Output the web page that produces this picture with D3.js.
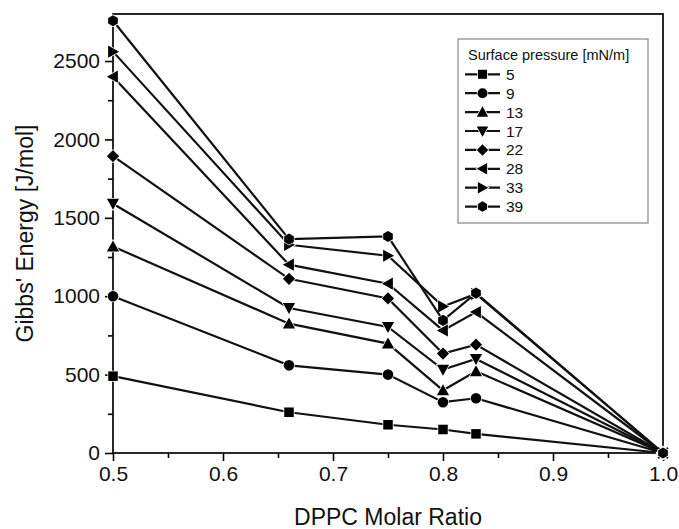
<!DOCTYPE html>
<html>
<head>
<meta charset="utf-8">
<script src="https://cdn.jsdelivr.net/npm/d3@7"></script>
<style>
  body { margin: 0; background: #fff; }
  svg { display: block; font-family: "Liberation Sans", Arial, sans-serif; }
</style>
</head>
<body>
<div class="chart"></div>
<script>
// DPPC molar ratio on x, one series per surface pressure
const ratios = [0.5, 0.66, 0.75, 0.8, 0.83, 1.0];
const pressures = ['5', '9', '13', '17', '22', '28', '33', '39'];
const symbols = ['square', 'circle', 'up', 'down', 'diamond', 'left', 'right', 'hexagon'];

const p5  = [490, 260, 180, 150, 122, 0];
const p9  = [1000, 559, 500, 324, 349, 0];
const p13 = [1317, 825, 698, 400, 521, 0];
const p17 = [1590, 925, 804, 532, 600, 0];
const p22 = [1893, 1111, 986, 634, 691, 0];
const p28 = [2400, 1201, 1080, 782, 899, 0];
const p33 = [2560, 1328, 1258, 935, 1015, 0];
const p39 = [2757, 1364, 1381, 846, 1020, 0];

const xMajor = [0.5, 0.6, 0.7, 0.8, 0.9, 1.0];
const xMinor = [0.55, 0.65, 0.75, 0.85, 0.95];
const yMajor = [0, 500, 1000, 1500, 2000, 2500];
const yMinor = [250, 750, 1250, 1750, 2250, 2750];

const seriesValues = [p5, p9, p13, p17, p22, p28, p33, p39];

const width = 679, height = 529;
const margin = {top: 14, right: 16, bottom: 76, left: 113};

const svg = d3.select('.chart').append('svg')
    .attr('width', width)
    .attr('height', height);

const x = d3.scaleLinear().domain([0.5, 1.0]).range([margin.left, width - margin.right]);
const y = d3.scaleLinear().domain([0, 2800]).range([height - margin.bottom, margin.top]);

// marker path, centred on 0,0
function marker(type, r) {
    const p = d3.path();
    const pts = (arr) => {
        arr.forEach((q, i) => i ? p.lineTo(q[0], q[1]) : p.moveTo(q[0], q[1]));
        p.closePath();
    };
    const t = r * 1.15;
    switch (type) {
        case 'square': pts([[-r * 0.9, -r * 0.9], [r * 0.9, -r * 0.9], [r * 0.9, r * 0.9], [-r * 0.9, r * 0.9]]); break;
        case 'circle': p.arc(0, 0, r, 0, 2 * Math.PI); break;
        case 'up': pts([[0, -t], [t, t * 0.8], [-t, t * 0.8]]); break;
        case 'down': pts([[0, t], [t, -t * 0.8], [-t, -t * 0.8]]); break;
        case 'diamond': pts([[0, -t], [t, 0], [0, t], [-t, 0]]); break;
        case 'left': pts([[-t, 0], [t * 0.8, -t], [t * 0.8, t]]); break;
        case 'right': pts([[t, 0], [-t * 0.8, -t], [-t * 0.8, t]]); break;
        case 'hexagon':
            pts(d3.range(6).map(i => {
                const a = Math.PI / 6 + i * Math.PI / 3;
                return [r * 1.05 * Math.cos(a), r * 1.05 * Math.sin(a)];
            }));
            break;
    }
    return p.toString();
}

// ticks
const fontSize = 21;
svg.append('g')
    .attr('transform', `translate(0,${y(0)})`)
    .call(d3.axisBottom(x).tickValues(xMajor).tickSize(8).tickPadding(5).tickFormat(d3.format('.1f')));
svg.append('g')
    .attr('transform', `translate(0,${y(0)})`)
    .call(d3.axisBottom(x).tickValues(xMinor).tickSize(5).tickFormat(''));
svg.append('g')
    .attr('transform', `translate(${x(0.5)},0)`)
    .call(d3.axisLeft(y).tickValues(yMajor).tickSize(8).tickPadding(5).tickFormat(d3.format('d')));
svg.append('g')
    .attr('transform', `translate(${x(0.5)},0)`)
    .call(d3.axisLeft(y).tickValues(yMinor).tickSize(5).tickFormat(''));

svg.selectAll('.domain').remove();
svg.selectAll('.tick line').attr('stroke', '#000').attr('stroke-width', 1.6);
svg.selectAll('.tick text')
    .attr('font-size', fontSize)
    .attr('font-family', '"Liberation Sans", Arial, sans-serif')
    .attr('fill', '#111');

// frame
svg.append('rect')
    .attr('x', x(0.5)).attr('y', y(2800))
    .attr('width', x(1.0) - x(0.5))
    .attr('height', y(0) - y(2800))
    .attr('fill', 'none')
    .attr('stroke', '#111')
    .attr('stroke-width', 1.8);

// lines
const line = d3.line()
    .x((d, i) => x(ratios[i]))
    .y(d => y(d));

const series = svg.append('g').selectAll('g')
    .data(seriesValues)
    .enter().append('g');

series.append('path')
    .attr('d', d => line(d))
    .attr('fill', 'none')
    .attr('stroke', '#111')
    .attr('stroke-width', 2.2);

series.each(function (vals, k) {
    d3.select(this).selectAll('path.m')
        .data(vals)
        .enter().append('path')
        .attr('class', 'm')
        .attr('transform', (d, i) => `translate(${x(ratios[i])},${y(d)})`)
        .attr('d', marker(symbols[k], 5.3))
        .attr('fill', '#000')
        .attr('stroke', '#fff')
        .attr('stroke-width', 1.5)
        .attr('paint-order', 'stroke');
});

// legend
const legend = svg.append('g').attr('transform', 'translate(458,39)');
legend.append('rect')
    .attr('width', 190).attr('height', 184)
    .attr('fill', '#fff')
    .attr('stroke', '#888')
    .attr('stroke-width', 1.2);
legend.append('text')
    .attr('x', 10).attr('y', 21)
    .attr('font-size', 14.5)
    .attr('fill', '#111')
    .text('Surface pressure [mN/m]');

const rows = legend.selectAll('g.row')
    .data(pressures)
    .enter().append('g')
    .attr('class', 'row')
    .attr('transform', (d, i) => `translate(0,${35.3 + i * 18.9})`);
rows.append('line')
    .attr('x1', 7).attr('x2', 42)
    .attr('stroke', '#111').attr('stroke-width', 2.2);
rows.append('path')
    .attr('transform', 'translate(24.5,0)')
    .attr('d', (d, i) => marker(symbols[i], 5))
    .attr('fill', '#000')
    .attr('stroke', '#fff')
    .attr('stroke-width', 1.5)
    .attr('paint-order', 'stroke');
rows.append('text')
    .attr('x', 48).attr('y', 5.5)
    .attr('font-size', 15.5)
    .attr('fill', '#111')
    .text(d => d);

// axis titles
svg.append('text')
    .attr('x', (x(0.5) + x(1.0)) / 2)
    .attr('y', 525)
    .attr('text-anchor', 'middle')
    .attr('font-size', 23)
    .attr('fill', '#111')
    .text('DPPC Molar Ratio');

svg.append('text')
    .attr('transform', `translate(33,${(y(0) + y(2800)) / 2}) rotate(-90)`)
    .attr('text-anchor', 'middle')
    .attr('font-size', 23)
    .attr('fill', '#111')
    .text("Gibbs' Energy [J/mol]");
</script>
</body>
</html>
